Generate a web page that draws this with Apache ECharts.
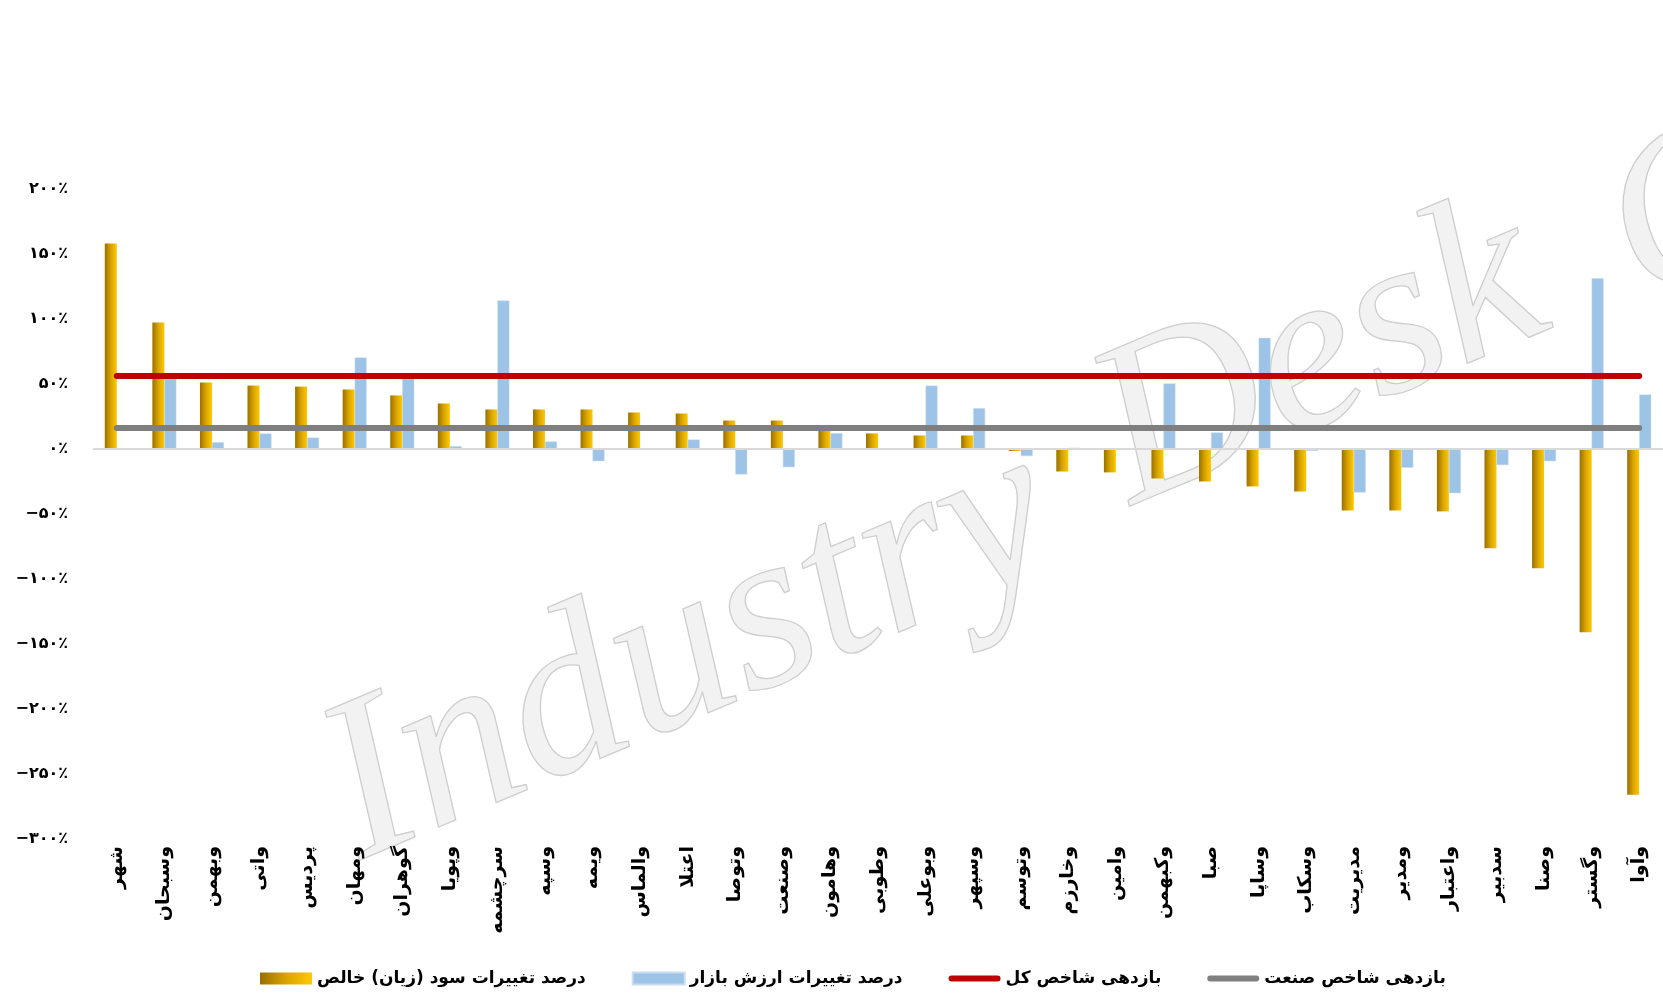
<!DOCTYPE html>
<html>
<head>
<meta charset="utf-8">
<script src="https://cdn.jsdelivr.net/npm/echarts@6/dist/echarts.min.js"></script>
<style>
  html, body { margin: 0; padding: 0; background: #fff; }
  #main { width: 1663px; height: 996px; }
</style>
</head>
<body>
<div id="main"></div>
<script>
var categories = ['شهر', 'وسبحان', 'وبهمن', 'واتی', 'پردیس', 'ومهان', 'گوهران', 'وپویا', 'سرچشمه', 'وسپه',
    'ویمه', 'والماس', 'اعتلا', 'وتوصا', 'وصنعت', 'وهامون', 'وطوبی', 'وبوعلی', 'وسپهر', 'وتوسم',
    'وخارزم', 'وامین', 'وکبهمن', 'صبا', 'وساپا', 'وسکاب', 'مدیریت', 'ومدیر', 'واعتبار', 'سدبیر',
    'وصنا', 'وگستر', 'وآوا'];

// درصد تغییرات سود (زیان) خالص
var profitChange = [158, 97.3, 51.2, 48.8, 48, 45.8, 41.2, 35, 30.4, 30.4,
    30.4, 28.1, 27.3, 21.9, 21.9, 16, 12, 10.4, 10.4, -1.5,
    -17.3, -18, -22.7, -25, -28.8, -32.7, -47.3, -47.3, -48, -76.3,
    -91.7, -141, -266];

// درصد تغییرات ارزش بازار
var marketChange = [0, 54, 5.2, 11.9, 8.8, 70.4, 54, 2.2, 114.2, 5.8,
    -9.4, 0, 7.3, -19.6, -14, 12.2, 0, 48.8, 31.4, -5.4,
    1, 0, 50.4, 12.7, 85.5, -1.5, -33.5, -14.4, -34, -12.4,
    -9.4, 131.4, 41.9];

// بازدهی شاخص کل
var totalIndex = [56.2, 56.2, 56.2, 56.2, 56.2, 56.2, 56.2, 56.2, 56.2, 56.2,
    56.2, 56.2, 56.2, 56.2, 56.2, 56.2, 56.2, 56.2, 56.2, 56.2,
    56.2, 56.2, 56.2, 56.2, 56.2, 56.2, 56.2, 56.2, 56.2, 56.2,
    56.2, 56.2, 56.2];

// بازدهی شاخص صنعت
var industryIndex = [16.2, 16.2, 16.2, 16.2, 16.2, 16.2, 16.2, 16.2, 16.2, 16.2,
    16.2, 16.2, 16.2, 16.2, 16.2, 16.2, 16.2, 16.2, 16.2, 16.2,
    16.2, 16.2, 16.2, 16.2, 16.2, 16.2, 16.2, 16.2, 16.2, 16.2,
    16.2, 16.2, 16.2];

var names = ['درصد تغییرات سود (زیان) خالص', 'درصد تغییرات ارزش بازار', 'بازدهی شاخص کل', 'بازدهی شاخص صنعت'];

var faDigits = '۰۱۲۳۴۵۶۷۸۹';
function toFa(n) {
    return String(n).replace(/[0-9]/g, function (d) { return faDigits[+d]; });
}

var font = 'DejaVu Sans';
var gold = new echarts.graphic.LinearGradient(0, 0, 1, 0, [
    { offset: 0, color: '#9a6f00' },
    { offset: 0.5, color: '#d9a400' },
    { offset: 1, color: '#ffc800' }
]);
// thick rounded line for the legend, inside a 52x12 box
var lineIcon = 'path://M0,0 M52,12 M3,3 L49,3 A3,3 0 0 1 49,9 L3,9 A3,3 0 0 1 3,3 Z';

var wmStyle = { fill: 'rgba(205,205,205,0.25)', stroke: '#cfcfcf', lineWidth: 1.3,
    textAlign: 'center', textVerticalAlign: 'middle', font: 'italic 230px "Liberation Serif"' };

var chart = echarts.init(document.getElementById('main'));
chart.setOption({
    backgroundColor: '#fff',
    animation: false,
    grid: { left: 93, top: 189, width: 1577, height: 650 },
    graphic: [
        { type: 'text', x: 690, y: 655, rotation: 0.4, z: -10, silent: true,
          style: Object.assign({ text: 'Industry' }, wmStyle) },
        { type: 'text', x: 1320, y: 360, rotation: 0.4, z: -10, silent: true,
          style: Object.assign({ text: 'Desk' }, wmStyle) },
        { type: 'text', x: 1690, y: 220, rotation: 0.4, z: -10, silent: true,
          style: Object.assign({ text: 'C' }, wmStyle) }
    ],
    legend: {
        left: 255, top: 965,
        itemWidth: 52, itemHeight: 12, itemGap: 46,
        textStyle: { fontFamily: font, fontWeight: 'bold', fontSize: 17, color: '#000' },
        data: [
            { name: names[0], icon: 'rect' },
            { name: names[1], icon: 'rect' },
            { name: names[2], icon: lineIcon },
            { name: names[3], icon: lineIcon }
        ]
    },
    xAxis: {
        type: 'category',
        data: categories,
        axisLine: { show: false, onZero: false },
        axisTick: { show: false },
        axisLabel: { rotate: 90, interval: 0, margin: 7, fontFamily: font, fontWeight: 'bold', fontSize: 19, color: '#000' }
    },
    yAxis: {
        type: 'value', min: -300, max: 200, interval: 50,
        splitLine: { show: false },
        axisLine: { show: false },
        axisTick: { show: false },
        axisLabel: {
            margin: 25, fontFamily: font, fontWeight: 'bold', fontSize: 16, color: '#000',
            formatter: function (v) { return (v < 0 ? '−' : '') + toFa(Math.abs(v)) + '٪'; }
        }
    },
    series: [
        {
            name: names[0], type: 'bar', data: profitChange,
            barWidth: 12, barGap: '0%',
            itemStyle: { color: gold }
        },
        {
            name: names[1], type: 'bar', data: marketChange,
            barWidth: 12,
            itemStyle: { color: '#9dc3e6', borderColor: '#c9dcf0', borderWidth: 0.5 },
            markLine: {
                silent: true, symbol: 'none', label: { show: false },
                lineStyle: { color: '#d9d9d9', width: 2, type: 'solid' },
                data: [{ yAxis: 0 }]
            }
        },
        {
            name: names[2], type: 'line', data: totalIndex, symbol: 'none', z: 5,
            itemStyle: { color: '#c00000' },
            lineStyle: { color: '#c00000', width: 6, cap: 'round' }
        },
        {
            name: names[3], type: 'line', data: industryIndex, symbol: 'none', z: 4,
            itemStyle: { color: '#7f7f7f' },
            lineStyle: { color: '#7f7f7f', width: 6, cap: 'round' }
        }
    ]
});
</script>
</body>
</html>
